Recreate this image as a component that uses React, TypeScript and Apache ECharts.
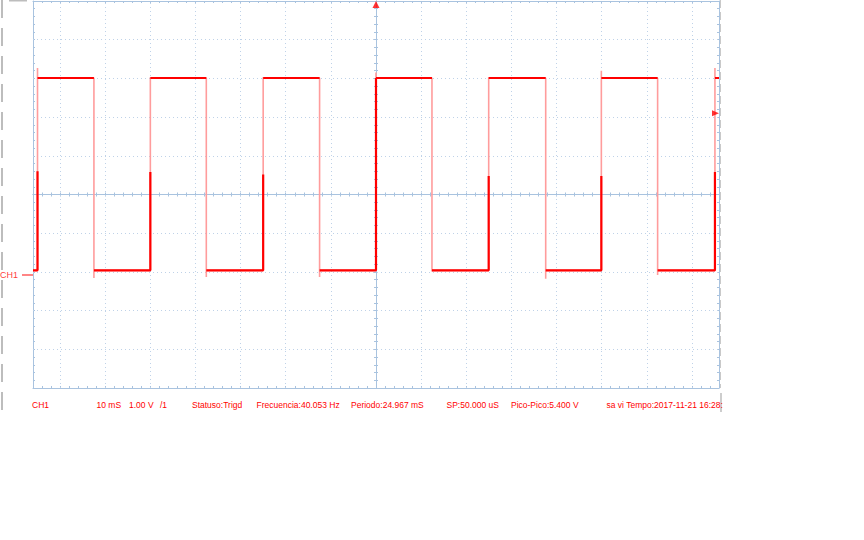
import React, { useEffect, useRef } from 'react';
import * as echarts from 'echarts';

// Time axis in ms (10 mS/div), vertical axis in divisions (1.00 V/div), screen centre = 0
const X_MIN = -76;
const X_MAX = 76;
const Y_MIN = -5;
const Y_MAX = 5;

// Square wave
const RISE_T = [-75.0, -50.0, -25.0, 0, 24.97, 49.93, 75.1];
const FALL_T = [-62.5, -37.6, -12.5, 12.4, 37.6, 62.4];
const RISE_PEAK = [3.27, 3.03, 3.03, 3.15, 3.03, 3.2, 3.27];
const RISE_BRIGHT = [0.6, 0.58, 0.52, 3.01, 0.48, 0.48, 0.58];
const FALL_DIP = [-2.16, -2.13, -2.13, -1.99, -2.18, -2.08];
const HIGH = 3.01;
const LOW = -1.96;
const GND = -2.08;
const TRIG = 2.1;

const X_GRID = [-70, -60, -50, -40, -30, -20, -10, 10, 20, 30, 40, 50, 60, 70];
const Y_GRID = [-4, -3, -2, -1, 1, 2, 3, 4];

const INFO_TEXT = [
  'CH1',
  '10 mS',
  '1.00 V',
  '/1',
  'Statuso:Trigd',
  'Frecuencia:40.053 Hz',
  'Periodo:24.967 mS',
  'SP:50.000 uS',
  'Pico-Pico:5.400 V',
  'sa vi Tempo:2017-11-21 16:28:',
];
const INFO_X = [32, 96.5, 129, 160, 192, 256.5, 351, 446.5, 511, 606.5];

const BORDER = '#a9c3df';
const GRIDC = '#bfd2e8';
const RED = '#ff0000';
const PINK = '#ff9c9c';
const FONT = '"Liberation Sans", Arial, sans-serif';

function buildEdges() {
  const pts: any[] = [[X_MIN, LOW]];
  RISE_T.forEach((r, i) => {
    pts.push([r, LOW], [r, RISE_PEAK[i]], [r, HIGH]);
    if (i < FALL_T.length) {
      const f = FALL_T[i];
      pts.push([f, HIGH], [f, FALL_DIP[i]], [f, LOW]);
    }
  });
  pts.push([X_MAX, HIGH]);
  return pts;
}

function buildLevels() {
  const pts: any[] = [[X_MIN, LOW]];
  RISE_T.forEach((r, i) => {
    pts.push([r, LOW], [r, RISE_BRIGHT[i]], [r, '-'], [r, HIGH]);
    const end = i < FALL_T.length ? FALL_T[i] : X_MAX;
    pts.push([end, HIGH]);
    if (i < FALL_T.length) pts.push([end, '-'], [end, LOW]);
  });
  return pts;
}

function xAx(position: string, onZero: boolean, inside: boolean) {
  return {
    type: 'value',
    min: X_MIN,
    max: X_MAX,
    interval: 2,
    position,
    axisLine: { show: true, onZero, onZeroAxisIndex: onZero ? 0 : undefined, lineStyle: { color: BORDER, width: 1 } },
    axisTick: { show: true, inside, length: 2, lineStyle: { color: BORDER } },
    axisLabel: { show: false },
    splitLine: { show: false },
  };
}
function yAx(position: string, onZero: boolean, inside: boolean) {
  return {
    type: 'value',
    min: Y_MIN,
    max: Y_MAX,
    interval: 0.2,
    position,
    axisLine: { show: true, onZero, onZeroAxisIndex: onZero ? 0 : undefined, lineStyle: { color: BORDER, width: 1 } },
    axisTick: { show: true, inside, length: 2, lineStyle: { color: BORDER } },
    axisLabel: { show: false },
    splitLine: { show: false },
  };
}

export default function App() {
  const ref = useRef<HTMLDivElement>(null);
  useEffect(() => {
    if (!ref.current) return;
    const chart = echarts.init(ref.current, null, { renderer: 'svg' });
    const option: any = {
      animation: false,
      backgroundColor: '#ffffff',
      grid: { left: 33, right: 145, top: 1, bottom: 152, containLabel: false },
      xAxis: [
        xAx('bottom', false, true),
        xAx('top', false, true),
        xAx('bottom', true, true),
        xAx('bottom', true, false),
      ],
      yAxis: [
        yAx('left', false, true),
        yAx('right', false, true),
        yAx('left', true, true),
        yAx('left', true, false),
      ],
      series: [
        {
          name: 'edges',
          type: 'line',
          xAxisIndex: 0,
          yAxisIndex: 0,
          data: buildEdges(),
          showSymbol: false,
          symbol: 'none',
          z: 3,
          lineStyle: { color: PINK, width: 1.6 },
          markLine: {
            z: 1,
            silent: true,
            symbol: ['none', 'none'],
            label: { show: false },
            lineStyle: { color: GRIDC, width: 1, type: [1, 3] },
            data: [
              ...X_GRID.map((v) => ({ xAxis: v })),
              ...Y_GRID.map((v) => ({ yAxis: v })),
            ],
          },
        },
        {
          name: 'levels',
          type: 'line',
          xAxisIndex: 0,
          yAxisIndex: 0,
          data: buildLevels(),
          showSymbol: false,
          symbol: 'none',
          connectNulls: false,
          z: 4,
          lineStyle: { color: RED, width: 2.2 },
        },
        {
          name: 'markers',
          type: 'scatter',
          xAxisIndex: 0,
          yAxisIndex: 0,
          clip: false,
          z: 5,
          itemStyle: { color: RED },
          data: [
            { value: [0, Y_MAX], symbol: 'triangle', symbolSize: [7, 7], symbolOffset: [0, 3.5] },
            { value: [X_MAX, TRIG], symbol: 'triangle', symbolSize: [6, 7], symbolRotate: -90, symbolOffset: [-3.5, 0] },
            {
              value: [X_MIN, GND],
              symbol: 'rect',
              symbolSize: [11, 1.2],
              symbolOffset: [-5.5, 0],
              label: {
                show: true,
                formatter: 'CH1',
                position: 'left',
                distance: 4,
                color: RED,
                fontSize: 9,
                fontFamily: FONT,
              },
            },
          ],
        },
      ],
      graphic: [
        {
          type: 'line',
          shape: { x1: 2, y1: 0, x2: 2, y2: 416 },
          style: { stroke: '#bdbdbd', lineWidth: 2, lineDash: [18, 10] },
          silent: true,
        },
        {
          type: 'line',
          shape: { x1: 9, y1: 0.5, x2: 27, y2: 0.5 },
          style: { stroke: '#bdbdbd', lineWidth: 2 },
          silent: true,
        },
        {
          type: 'line',
          shape: { x1: 720.5, y1: 0, x2: 720.5, y2: 388 },
          style: { stroke: '#c9c9c9', lineWidth: 1, lineDash: [8, 4] },
          silent: true,
        },
        {
          type: 'line',
          shape: { x1: 721, y1: 393, x2: 721, y2: 412 },
          style: { stroke: '#bdbdbd', lineWidth: 1.5 },
          silent: true,
        },
        ...INFO_TEXT.map((t, i) => ({
          type: 'text',
          x: INFO_X[i],
          y: 404.5,
          silent: true,
          style: {
            text: t,
            fill: RED,
            font: `8.5px ${FONT}`,
            textVerticalAlign: 'middle',
            verticalAlign: 'middle',
          },
        })),
      ],
    };
    chart.setOption(option);
    return () => chart.dispose();
  }, []);
  return (
    <div
      ref={ref}
      style={{ position: 'absolute', left: 0, top: 0, width: 864, height: 540, background: '#fff' }}
    />
  );
}
